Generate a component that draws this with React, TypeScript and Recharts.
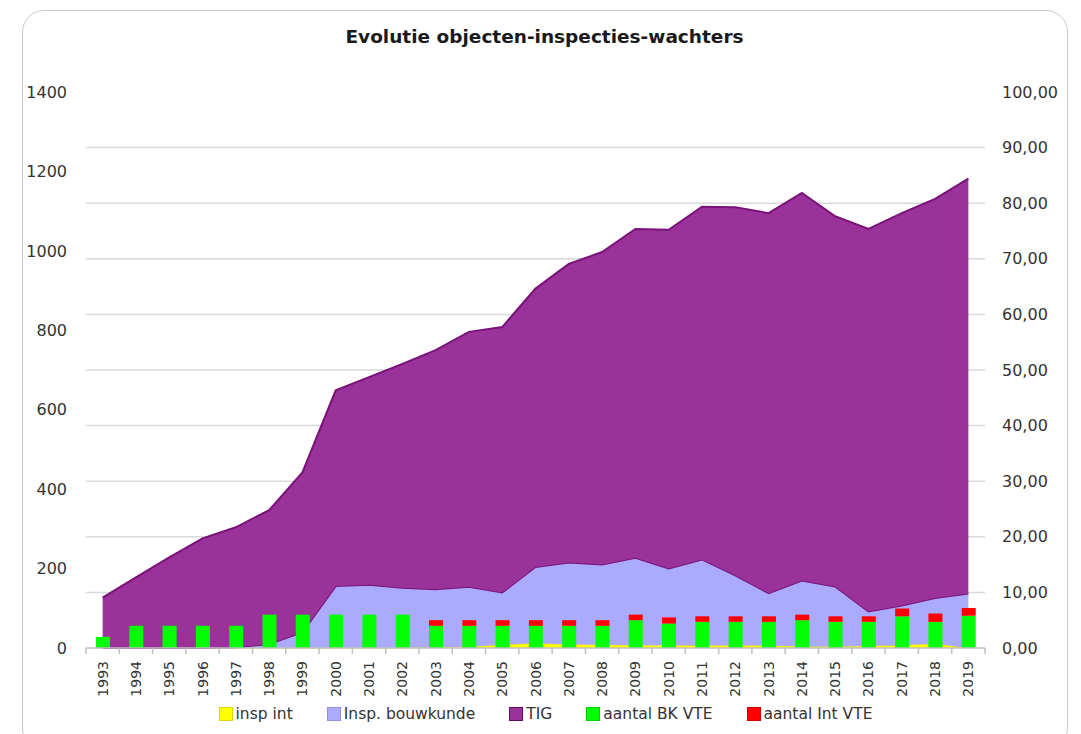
import React from 'react'
import { ComposedChart, Area, Bar, XAxis, YAxis, CartesianGrid } from 'recharts'

const years = [
  '1993', '1994', '1995', '1996', '1997', '1998', '1999', '2000', '2001', '2002',
  '2003', '2004', '2005', '2006', '2007', '2008', '2009', '2010', '2011', '2012',
  '2013', '2014', '2015', '2016', '2017', '2018', '2019',
]

// objecten / inspecties (linker as, gestapeld)
const inspInt = [0, 0, 0, 0, 0, 0, 0, 0, 0, 0, 2, 3, 8, 12, 9, 8, 7, 7, 6, 7, 6, 4, 4, 5, 7, 11, 0]
const inspBouwkunde = [0, 0, 0, 0, 2, 10, 40, 156, 159, 152, 146, 151, 132, 192, 206, 202, 220, 193, 217, 176, 132, 166, 151, 87, 100, 115, 137]
const tig = [127, 178, 228, 276, 302, 337, 402, 493, 523, 563, 602, 642, 668, 701, 752, 787, 828, 853, 888, 927, 957, 976, 932, 963, 988, 1005, 1045]

// wachters in VTE (rechter as, gestapeld)
const aantalBkVte = [2, 4, 4, 4, 4, 6, 6, 6, 6, 6, 4, 4, 4, 4, 4, 4, 5, 4.4, 4.7, 4.7, 4.7, 5, 4.7, 4.7, 5.7, 4.7, 5.8]
const aantalIntVte = [0, 0, 0, 0, 0, 0, 0, 0, 0, 0, 1, 1, 1, 1, 1, 1, 1, 1.1, 1, 1, 1, 1, 1, 1, 1.4, 1.5, 1.4]

const leftTicks = [0, 200, 400, 600, 800, 1000, 1200, 1400]
const rightTicks = [0, 10, 20, 30, 40, 50, 60, 70, 80, 90, 100]

const data = years.map((year, i) => ({
  year,
  inspInt: inspInt[i],
  inspBouwkunde: inspBouwkunde[i],
  tig: tig[i],
  bk: aantalBkVte[i],
  int: aantalIntVte[i],
}))

const legend = [
  { name: 'insp int', color: '#ffff00', border: '#d8d800' },
  { name: 'Insp. bouwkunde', color: '#aaaaff', border: '#9090e0' },
  { name: 'TIG', color: '#993399', border: '#6a0a6a' },
  { name: 'aantal BK VTE', color: '#00ff00', border: '#00d000' },
  { name: 'aantal Int VTE', color: '#ff0000', border: '#d00000' },
]

const W = 1081
const H = 734
const M = { top: 92, right: 0, bottom: 26, left: 0 }
const LEFT_W = 86
const RIGHT_W = 96
const AXIS_Y = H - M.bottom - 60
const HALF_BAND = (W - LEFT_W - RIGHT_W) / years.length / 2
const textColor = '#333333'
const font = '"DejaVu Sans", Verdana, sans-serif'

const YearTick = (props: any) => {
  const { x, y, payload, index } = props
  return (
    <g>
      <line x1={x - HALF_BAND} x2={x - HALF_BAND} y1={AXIS_Y} y2={AXIS_Y + 6} stroke="#bfbfbf" strokeWidth={1.5} />
      {index === years.length - 1 && (
        <line x1={x + HALF_BAND} x2={x + HALF_BAND} y1={AXIS_Y} y2={AXIS_Y + 6} stroke="#bfbfbf" strokeWidth={1.5} />
      )}
      <text
        x={x}
        y={y}
        transform={`rotate(-90 ${x} ${y})`}
        textAnchor="end"
        dy="0.36em"
        fill={textColor}
        fontSize={14}
        fontFamily={font}
      >
        {payload.value}
      </text>
    </g>
  )
}

export default function App() {
  return (
    <div style={{ position: 'absolute', left: 0, top: 0, width: W, height: H, background: '#fff', fontFamily: font }}>
      <div
        style={{
          position: 'absolute', left: 22, top: 10, width: 1046, height: 740,
          border: '1.5px solid #c8c8c8', borderRadius: 22, boxSizing: 'border-box',
        }}
      />
      <div
        style={{
          position: 'absolute', left: 4, top: 26, width: W, textAlign: 'center',
          fontSize: 18.5, fontWeight: 'bold', color: '#1a1a1a',
        }}
      >
        Evolutie objecten-inspecties-wachters
      </div>
      <div style={{ position: 'absolute', left: 0, top: 0 }}>
        <ComposedChart width={W} height={H} data={data} margin={M}>
          <CartesianGrid
            vertical={false}
            yAxisId="right"
            horizontalValues={[10, 20, 30, 40, 50, 60, 70, 80, 90]}
            stroke="#d9d9d9"
            strokeWidth={1.5}
          />
          <XAxis
            dataKey="year"
            height={60}
            interval={0}
            tick={<YearTick />}
            tickLine={false}
            tickSize={0}
            tickMargin={13}
            axisLine={{ stroke: '#bfbfbf', strokeWidth: 1.5 }}
          />
          <YAxis
            yAxisId="left"
            orientation="left"
            width={LEFT_W}
            domain={[0, 1400]}
            ticks={leftTicks}
            interval={0}
            axisLine={false}
            tickLine={false}
            tickMargin={13}
            tick={{ fill: textColor, fontSize: 16, fontFamily: font }}
          />
          <YAxis
            yAxisId="right"
            orientation="right"
            width={RIGHT_W}
            domain={[0, 100]}
            ticks={rightTicks}
            interval={0}
            axisLine={false}
            tickLine={false}
            tickMargin={11}
            tickFormatter={(v: number) => v.toFixed(2).replace('.', ',')}
            tick={{ fill: textColor, fontSize: 16, fontFamily: font }}
          />
          <Area yAxisId="left" stackId="obj" type="linear" dataKey="inspInt" name="insp int"
            fill="#ffff00" fillOpacity={1} stroke="#e8e020" strokeWidth={1} isAnimationActive={false} />
          <Area yAxisId="left" stackId="obj" type="linear" dataKey="inspBouwkunde" name="Insp. bouwkunde"
            fill="#aaaaff" fillOpacity={1} stroke="#7a127a" strokeWidth={2} isAnimationActive={false} />
          <Area yAxisId="left" stackId="obj" type="linear" dataKey="tig" name="TIG"
            fill="#993399" fillOpacity={1} stroke="#7a127a" strokeWidth={2} isAnimationActive={false} />
          <Bar yAxisId="right" stackId="vte" dataKey="bk" name="aantal BK VTE"
            fill="#00ff00" barSize={14} isAnimationActive={false} />
          <Bar yAxisId="right" stackId="vte" dataKey="int" name="aantal Int VTE"
            fill="#ff0000" barSize={14} isAnimationActive={false} />
        </ComposedChart>
      </div>
      <div
        style={{
          position: 'absolute', left: 5, top: 704, width: W, display: 'flex',
          justifyContent: 'center', gap: 34, fontSize: 15.5, color: textColor, lineHeight: '20px',
        }}
      >
        {legend.map(l => (
          <div key={l.name} style={{ display: 'flex', alignItems: 'center', gap: 3 }}>
            <span style={{ width: 12, height: 12, background: l.color, border: `1px solid ${l.border}`, display: 'inline-block' }} />
            <span>{l.name}</span>
          </div>
        ))}
      </div>
    </div>
  )
}
